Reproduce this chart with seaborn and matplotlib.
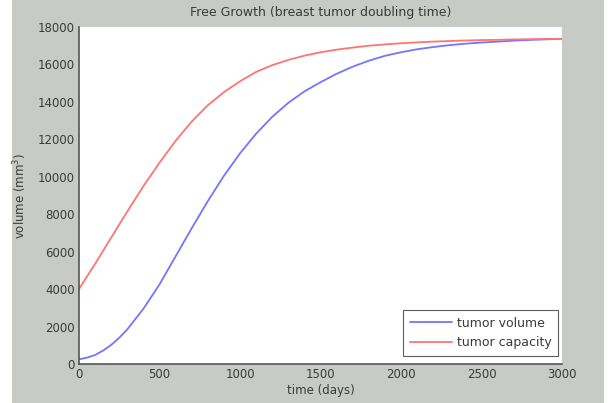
import pandas as pd
import matplotlib
matplotlib.use("Agg")
import matplotlib.pyplot as plt
import seaborn as sns
from matplotlib.patches import Rectangle

# time axis (days) and curves
days = [0, 50, 100, 150, 200, 250, 300, 400, 500, 600, 700, 800, 900, 1000,
        1100, 1200, 1300, 1400, 1500, 1600, 1700, 1800, 1900, 2000,
        2100, 2200, 2300, 2400, 2500, 2600, 2700, 2800, 2900, 3000]
tumor_volume = [250, 340, 480, 720, 1020, 1400, 1850, 2950, 4250, 5750, 7250, 8700,
                10050, 11250, 12300, 13200, 13950, 14560, 15050, 15500, 15880, 16200,
                16460, 16650, 16810, 16930, 17030, 17110, 17170, 17220, 17270, 17310,
                17340, 17370]
tumor_capacity = [4000, 4680, 5350, 6050, 6750, 7450, 8150, 9500, 10750, 11920, 12950,
                  13820, 14520, 15100, 15600, 15960, 16240, 16470, 16650, 16790, 16900,
                  17000, 17070, 17130, 17180, 17220, 17250, 17280, 17300, 17315, 17335,
                  17350, 17360, 17370]
series_names = ["tumor volume", "tumor capacity"]
xticks = [0, 500, 1000, 1500, 2000, 2500, 3000]
yticks = list(range(0, 18001, 2000))

df = pd.DataFrame({
    "time": days * 2,
    "volume": tumor_volume + tumor_capacity,
    "series": [series_names[0]] * len(days) + [series_names[1]] * len(days),
})

sns.set_style("white")
plt.rcParams["font.family"] = ["DejaVu Sans"]
txt = "#3a3a3a"
bg = "#c8cbc5"

fig = plt.figure(figsize=(6.16, 4.03), dpi=100, facecolor="white")
fig.patches.append(Rectangle((12 / 616, 0), 592 / 616, 1, transform=fig.transFigure,
                             facecolor=bg, edgecolor="none", zorder=-10))
ax = fig.add_axes([79 / 616, 39 / 403, 483 / 616, 337 / 403])
ax.set_facecolor("white")

sns.lineplot(data=df, x="time", y="volume", hue="series",
             palette={"tumor volume": "#7474ff", "tumor capacity": "#ff7474"},
             linewidth=1.3, ax=ax)

ax.set_xlim(0, 3000)
ax.set_ylim(0, 18000)
ax.set_xticks(xticks)
ax.set_yticks(yticks)
ax.tick_params(direction="in", length=4, width=0.8, colors="#555555",
               labelcolor=txt, labelsize=8.5, pad=3)
for s in ["top", "right"]:
    ax.spines[s].set_visible(False)
for s in ["left", "bottom"]:
    ax.spines[s].set_color("#555555")
    ax.spines[s].set_linewidth(1.2)

ax.set_title("Free Growth (breast tumor doubling time)", fontsize=9, color=txt, pad=8)
ax.set_xlabel("time (days)", fontsize=8.5, color=txt, labelpad=2)
ax.set_ylabel("volume (mm$^3$)", fontsize=8.5, color=txt, labelpad=6)

leg = ax.legend(loc="lower right", bbox_to_anchor=(0.992, 0.024), borderaxespad=0,
                fontsize=9, frameon=True, fancybox=False, handlelength=3.4,
                handletextpad=0.35, labelspacing=0.5, borderpad=0.55)
leg.get_frame().set_edgecolor("#333333")
leg.get_frame().set_linewidth(0.8)
for t in leg.get_texts():
    t.set_color(txt)

fig.savefig("out.png", dpi=100, facecolor=fig.get_facecolor())
